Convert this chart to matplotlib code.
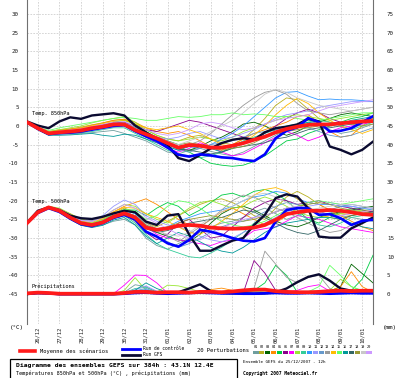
# -*- coding: utf-8 -*-
# GEFS ensemble diagram (T850, T500, precipitation) - 25/12/2007 12h run

import numpy as np
import matplotlib
matplotlib.use("Agg")
from matplotlib import pyplot as plt
from matplotlib.lines import Line2D
from matplotlib.patches import Rectangle

# Time axis (hours after 25/12/2007 12h)
hours = np.arange(0, 385, 12)
day_hours = np.arange(12, 384, 24)
day_labels = ["26/12", "27/12", "28/12", "29/12", "30/12", "31/12",
              "01/01", "02/01", "03/01", "04/01", "05/01", "06/01",
              "07/01", "08/01", "09/01", "10/01"]

# Offset of the precipitation curves on the left axis (0 mm -> -45)
precip_offset = -45

# Ensemble mean, control run and GFS run
t850_mean = [1.0, -0.6, -2.0, -1.7, -1.5, -1.2, -0.6, -0.2, 0.4, 0.4, -1.1, -2.2, -3.3,
             -4.6, -5.8, -5.1, -5.3, -5.8, -5.8, -5.3, -4.6, -3.7, -2.9, -1.7, -0.8,
             -0.2, 0.3, 0.4, 0.4, 0.7, 1.0, 1.2, 1.3]
t850_ctrl = [1.0, -0.8, -2.2, -1.9, -1.8, -1.5, -1.0, -0.5, 0.0, 0.2, -1.4, -2.8, -4.0,
             -5.8, -7.7, -8.2, -7.6, -7.9, -8.4, -8.6, -9.1, -9.4, -7.6, -3.3, -1.3,
             -0.4, 2.1, 1.0, -1.5, -1.3, -0.6, 1.0, 2.6]
t850_gfs = [1.2, 0.1, -0.6, 1.2, 2.3, 1.9, 2.8, 3.1, 3.4, 2.8, 0.1, -1.7, -3.5,
            -5.1, -8.6, -9.4, -7.8, -6.0, -4.6, -3.7, -3.3, -3.7, -1.7, -0.6, -0.2,
            0.4, 1.9, 1.2, -5.5, -6.4, -7.6, -6.4, -4.2]

t500_mean = [-26.0, -23.1, -21.8, -22.7, -24.5, -26.0, -26.5, -25.8, -24.3, -23.4, -24.5,
             -27.2, -27.8, -27.4, -26.7, -26.5, -26.7, -27.2, -27.4, -27.5, -27.4, -27.2,
             -26.5, -25.1, -23.6, -23.1, -22.7, -22.7, -22.5, -22.7, -23.1, -23.6, -23.8]
t500_ctrl = [-26.0, -23.3, -22.0, -23.0, -24.8, -26.3, -26.8, -26.0, -24.6, -23.8, -25.0,
             -28.3, -29.6, -31.4, -32.3, -30.5, -27.8, -28.3, -29.1, -30.0, -30.7, -30.9,
             -30.0, -25.6, -22.5, -22.0, -22.0, -23.8, -23.6, -24.7, -26.5, -25.4, -25.1]
t500_gfs = [-26.0, -22.7, -21.8, -22.5, -24.0, -24.7, -24.9, -24.3, -23.4, -22.7, -23.1,
            -25.6, -26.5, -24.0, -23.6, -29.1, -33.4, -33.4, -32.0, -30.7, -30.0, -26.5,
            -23.8, -19.3, -18.3, -18.9, -22.0, -29.6, -29.9, -29.9, -27.4, -26.0, -24.5]

rr_mean = [0.2, 0.4, 0.3, 0.1, 0.1, 0.1, 0.1, 0.1, 0.1, 0.3, 0.6, 0.6, 0.4, 0.5, 0.5,
           0.4, 0.6, 0.6, 0.5, 0.7, 1.0, 1.2, 1.2, 0.8, 0.6, 0.5, 0.5, 0.6, 0.8, 0.9,
           0.8, 0.9, 0.9]
rr_ctrl = [0.1, 0.3, 0.2, 0.0, 0.0, 0.0, 0.0, 0.0, 0.0, 0.1, 0.3, 0.4, 0.2, 0.1, 0.2,
           0.3, 0.4, 0.3, 0.2, 0.2, 0.1, 0.1, 0.2, 0.3, 0.2, 0.2, 0.3, 0.2, 0.1, 0.2,
           0.3, 0.2, 0.2]
rr_gfs = [0.0, 0.3, 0.2, 0.0, 0.0, 0.0, 0.0, 0.0, 0.0, 0.2, 0.5, 0.6, 0.3, 0.3, 0.5,
          1.5, 2.6, 0.8, 0.3, 0.2, 0.2, 0.1, 0.2, 0.5, 1.5, 3.2, 4.6, 5.3, 3.6, 1.5,
          0.9, 0.6, 0.5]

# 20 perturbations
pert_colors = ["#6f9e9e", "#b8b020", "#006400", "#ff8c00", "#00cc44", "#8b008b",
               "#ff00ff", "#99e633", "#33cc99", "#3399ff", "#9999ff", "#6699cc",
               "#999999", "#ffbb00", "#66ff66", "#009999", "#336666", "#999933",
               "#c8c8c8", "#cc99ff"]

t850_pert = [
    [1.0, -0.8, -2.3, -2.0, -2.2, -2.0, -1.8, -1.5, -1.2, -2.0, -3.0, -4.0, -5.5, -7.0, -7.5, -6.5, -6.0, -6.8, -7.5, -8.0, -7.0, -5.5, -4.0, -2.5, -1.0, 0.5, 1.5, 0.5, -1.0, -2.0, -1.5, -0.5, 0.5],
    [1.0, -0.5, -1.8, -1.2, -0.8, -0.3, 0.3, 0.8, 1.5, 1.8, 0.5, -1.0, -2.5, -3.5, -4.0, -3.0, -2.5, -3.5, -4.5, -5.0, -3.5, -1.0, 2.0, 5.5, 7.5, 7.0, 4.5, 2.0, 1.0, 0.5, 1.0, 1.5, 2.0],
    [1.0, -0.7, -2.0, -1.8, -1.5, -1.0, -0.5, 0.0, 0.6, 0.8, -0.5, -2.0, -3.5, -5.0, -6.0, -6.5, -5.5, -4.0, -3.0, -1.5, 0.5, 1.0, 0.0, -1.5, -2.5, -1.5, 0.0, 1.0, 2.0, 3.0, 3.5, 3.0, 2.5],
    [1.0, -0.4, -1.5, -1.0, -0.8, -0.5, 0.2, 0.8, 1.5, 1.8, 1.0, -0.5, -1.5, -2.0, -1.5, -2.5, -4.0, -5.5, -6.5, -5.0, -3.5, -2.0, -1.0, 0.0, 1.0, 2.5, 3.0, 1.0, -1.5, -3.0, -2.5, 0.0, 2.0],
    [1.0, -0.6, -2.2, -2.0, -1.6, -1.2, -0.5, 0.2, 1.0, 1.5, 0.5, -1.5, -3.0, -4.5, -6.0, -7.0, -8.5, -10.0, -10.5, -10.8, -10.5, -9.5, -8.0, -6.0, -4.0, -3.5, -2.0, -1.0, 0.0, 1.0, 2.0, 2.5, 3.5],
    [1.0, -0.5, -1.9, -1.5, -1.0, -0.8, -0.2, 0.3, 0.8, 1.0, 0.0, -1.0, -1.5, -0.5, 0.5, 1.5, 1.0, 0.0, -1.0, -2.0, -3.0, -3.5, -2.0, 0.0, 2.0, 3.5, 4.5, 3.5, 2.0, 1.0, 0.5, 1.0, 1.5],
    [1.0, -0.8, -2.2, -2.0, -1.8, -1.5, -1.0, -0.5, 0.2, 0.5, -1.5, -3.0, -4.5, -6.0, -7.0, -6.0, -4.5, -5.5, -7.0, -8.0, -7.5, -6.0, -4.5, -3.0, -1.5, -2.5, -4.0, -3.0, -1.5, -0.5, 0.0, 0.5, 1.0],
    [1.0, -0.5, -1.5, -1.0, -0.5, 0.0, 0.8, 1.5, 2.0, 2.5, 1.0, -1.0, -2.5, -3.5, -4.0, -3.5, -3.0, -3.5, -4.0, -3.0, -1.5, -0.5, 0.5, 1.5, 2.5, 3.0, 2.5, 2.0, 1.5, 2.0, 2.5, 3.0, 3.5],
    [1.0, -0.9, -2.4, -2.2, -2.0, -1.8, -1.5, -1.0, -0.5, -0.5, -2.0, -3.5, -5.0, -6.5, -7.5, -8.0, -8.5, -8.0, -7.0, -5.5, -4.0, -3.0, -2.0, -1.0, 0.0, 0.5, 1.0, 1.5, 1.0, 0.0, -1.0, 0.0, 1.0],
    [1.0, -0.6, -2.0, -1.6, -1.2, -1.0, -0.5, 0.0, 0.5, 0.8, -0.5, -2.0, -3.0, -4.0, -5.0, -5.5, -6.0, -5.0, -3.5, -2.0, 0.0, 2.5, 5.0, 7.5, 9.0, 9.2, 8.0, 7.0, 7.2, 7.0, 7.0, 6.8, 6.5],
    [1.0, -0.7, -2.1, -1.8, -1.5, -1.2, -0.8, -0.3, 0.2, 0.5, -0.8, -2.0, -3.0, -3.5, -3.0, -2.0, -1.5, -2.5, -3.5, -3.0, -2.0, -1.0, 0.5, 2.0, 3.0, 3.5, 4.0, 5.0, 5.5, 6.0, 6.5, 6.5, 6.5],
    [1.0, -0.8, -2.3, -2.2, -2.0, -1.5, -1.0, -0.6, -0.2, 0.0, -1.5, -2.5, -4.0, -5.5, -6.5, -7.0, -6.0, -5.0, -4.5, -4.0, -3.0, -2.0, -1.5, -1.0, -0.5, 0.0, -0.5, -1.5, -2.5, -3.0, -2.5, -1.5, -0.5],
    [1.0, -0.6, -1.9, -1.6, -1.3, -1.0, -0.5, 0.0, 0.5, 0.5, -1.0, -2.5, -3.5, -4.5, -5.5, -5.0, -4.0, -2.0, 0.5, 3.0, 5.5, 7.5, 9.0, 9.6, 8.5, 6.0, 4.0, 3.5, 3.0, 3.5, 4.0, 4.5, 5.0],
    [1.0, -0.5, -1.7, -1.3, -1.0, -0.6, 0.0, 0.6, 1.2, 1.5, 0.5, -0.5, -1.0, -0.5, 0.0, -1.0, -2.0, -3.5, -5.0, -5.5, -4.5, -2.5, 0.0, 3.0, 5.5, 7.4, 6.0, 3.5, 1.5, 0.0, -1.0, -2.0, -1.0],
    [1.0, -0.4, -1.2, -0.5, 0.0, 0.5, 1.0, 1.5, 2.0, 2.3, 2.0, 1.5, 1.5, 2.0, 2.5, 2.3, 2.5, 3.0, 3.0, 3.5, 3.0, 3.2, 3.0, 2.5, 2.5, 2.0, 1.5, 1.5, 2.0, 2.5, 3.0, 3.5, 3.5],
    [1.0, -1.0, -2.5, -2.5, -2.4, -2.2, -2.0, -2.5, -2.8, -2.2, -2.5, -3.5, -4.5, -5.5, -6.5, -5.5, -5.0, -6.0, -7.0, -6.0, -4.5, -3.5, -2.5, -2.0, -1.0, 0.0, 1.0, 0.5, 0.0, 0.5, 1.5, 2.0, 2.5],
    [1.0, -0.7, -2.1, -1.9, -1.7, -1.4, -0.9, -0.4, 0.1, 0.3, -1.2, -2.5, -3.8, -5.0, -6.2, -6.5, -7.0, -7.5, -7.0, -6.0, -5.5, -5.0, -4.5, -3.5, -3.0, -2.0, -1.0, -0.5, -0.5, 0.0, 0.5, 1.0, 1.5],
    [1.0, -0.6, -2.0, -1.7, -1.4, -1.1, -0.6, -0.1, 0.4, 0.6, -0.8, -2.0, -3.0, -4.0, -5.0, -4.5, -5.0, -6.0, -6.5, -6.0, -5.5, -4.5, -3.0, -2.0, -1.5, -1.0, -0.5, 0.0, 0.5, 1.0, 0.5, 0.0, 0.5],
    [1.0, -0.7, -2.0, -1.6, -1.3, -1.0, -0.4, 0.1, 0.6, 0.8, -0.6, -1.8, -3.0, -4.2, -5.0, -4.0, -3.0, -1.5, 0.0, 1.5, 3.5, 6.0, 8.5, 9.8, 9.0, 7.5, 6.5, 5.5, 5.0, 4.5, 4.0, 4.5, 5.0],
    [1.0, -0.5, -1.8, -1.4, -1.1, -0.8, -0.2, 0.4, 1.0, 1.2, 0.0, -1.0, -2.0, -2.5, -2.0, -1.0, 0.5, 1.0, 0.5, -0.5, -1.0, -0.5, 0.5, 1.5, 2.0, 2.5, 3.0, 4.0, 5.0, 5.5, 6.0, 6.5, 7.0],
]

t500_pert = [
    [-26.0, -23.3, -22.0, -23.0, -25.0, -26.5, -27.0, -26.5, -25.5, -25.0, -26.5, -30.0, -32.0, -33.0, -31.5, -30.0, -28.5, -27.0, -26.0, -25.5, -24.5, -23.0, -22.0, -23.5, -25.0, -24.0, -23.0, -22.5, -23.0, -24.0, -24.5, -25.0, -25.5],
    [-26.0, -23.0, -21.7, -22.5, -24.0, -25.5, -26.0, -25.0, -23.5, -22.0, -23.0, -26.0, -27.0, -25.5, -24.0, -22.5, -21.0, -20.0, -19.5, -20.5, -22.0, -24.0, -25.0, -22.0, -19.0, -17.5, -19.0, -21.0, -22.5, -23.5, -24.0, -23.5, -23.0],
    [-26.0, -23.2, -22.0, -22.8, -24.5, -26.0, -26.8, -26.0, -24.5, -23.0, -24.5, -27.0, -28.5, -29.5, -30.5, -31.0, -29.0, -26.0, -23.5, -22.0, -21.5, -22.5, -24.0, -25.5, -26.5, -27.0, -26.0, -24.5, -23.5, -23.0, -22.5, -22.0, -21.5],
    [-26.0, -23.0, -21.5, -22.2, -23.5, -25.0, -25.5, -24.5, -23.0, -21.5, -20.5, -19.5, -21.0, -23.0, -25.0, -26.5, -27.0, -25.0, -23.0, -22.0, -23.5, -25.0, -26.5, -26.0, -24.0, -22.0, -20.5, -21.0, -22.5, -24.0, -25.5, -27.0, -28.0],
    [-26.0, -23.1, -21.8, -22.6, -24.2, -25.8, -26.3, -25.5, -23.8, -22.5, -22.5, -24.0, -22.0, -20.5, -21.5, -24.0, -22.5, -20.5, -18.5, -18.0, -19.0, -17.5, -17.0, -18.0, -20.0, -22.5, -25.0, -26.0, -24.5, -23.0, -22.0, -22.5, -23.0],
    [-26.0, -23.2, -21.9, -22.8, -24.6, -26.1, -26.6, -25.9, -24.4, -23.5, -25.5, -28.5, -30.5, -29.0, -26.0, -25.0, -27.5, -30.0, -29.5, -27.0, -24.5, -22.0, -20.5, -19.5, -20.0, -21.0, -20.5, -20.0, -21.0, -21.5, -22.0, -22.5, -23.0],
    [-26.0, -23.1, -21.9, -22.7, -24.4, -26.0, -26.4, -25.6, -24.0, -23.0, -24.0, -27.0, -29.0, -30.0, -30.5, -31.0, -31.5, -32.0, -31.0, -30.5, -30.0, -28.0, -27.5, -27.0, -25.5, -24.0, -24.5, -25.0, -26.0, -27.0, -27.5, -28.0, -28.5],
    [-26.0, -22.8, -21.5, -22.0, -23.5, -25.0, -25.5, -24.5, -22.5, -21.0, -21.5, -23.5, -25.0, -26.0, -24.0, -22.0, -20.5, -20.0, -21.0, -22.0, -21.5, -20.0, -19.0, -20.0, -21.5, -23.0, -24.0, -24.5, -24.0, -23.5, -23.0, -22.5, -22.5],
    [-26.0, -23.3, -22.1, -23.0, -24.8, -26.3, -26.8, -26.2, -24.8, -24.0, -26.0, -29.0, -31.5, -33.0, -34.0, -35.0, -35.3, -34.0, -32.5, -30.5, -28.5, -26.0, -24.0, -23.0, -22.0, -23.5, -25.0, -26.5, -27.0, -26.0, -24.5, -24.0, -24.0],
    [-26.0, -23.0, -21.7, -22.5, -24.3, -25.8, -26.2, -25.3, -23.6, -22.5, -23.5, -26.5, -28.0, -27.0, -25.5, -24.5, -23.5, -23.0, -22.5, -21.5, -20.0, -19.0, -18.5, -17.5, -18.0, -19.5, -20.5, -21.0, -21.0, -21.5, -21.5, -22.0, -22.5],
    [-26.0, -22.9, -21.6, -22.3, -23.8, -25.2, -25.4, -24.0, -21.5, -19.8, -21.0, -24.0, -25.5, -26.5, -27.0, -28.0, -29.5, -30.5, -31.0, -30.0, -28.5, -27.5, -26.0, -24.5, -23.0, -22.0, -21.5, -21.0, -20.5, -21.0, -21.5, -22.0, -22.0],
    [-26.0, -23.2, -22.0, -22.9, -24.7, -26.2, -26.7, -26.0, -24.6, -23.8, -25.5, -28.0, -29.5, -31.0, -32.5, -31.5, -30.0, -28.5, -27.0, -26.0, -25.5, -24.5, -23.0, -21.5, -20.5, -21.0, -22.5, -23.5, -22.5, -21.5, -21.0, -21.5, -22.0],
    [-26.0, -23.1, -21.8, -22.7, -24.5, -26.0, -26.5, -25.8, -24.3, -23.2, -24.0, -26.0, -27.5, -29.5, -31.0, -29.0, -27.0, -25.0, -22.5, -20.0, -18.5, -19.0, -20.5, -22.0, -23.0, -24.5, -26.0, -27.5, -28.5, -28.0, -26.5, -25.5, -24.5],
    [-26.0, -23.0, -21.6, -22.4, -24.0, -25.5, -25.8, -24.8, -23.0, -21.8, -22.0, -23.5, -24.5, -25.5, -27.0, -28.5, -29.0, -27.5, -25.5, -23.5, -21.0, -18.5, -17.0, -16.5, -17.5, -19.5, -21.5, -23.5, -24.5, -25.0, -24.0, -23.0, -22.5],
    [-26.0, -23.0, -21.7, -22.5, -24.2, -25.6, -26.0, -25.2, -23.5, -22.3, -22.8, -25.0, -24.0, -21.5, -20.0, -20.5, -22.0, -24.0, -25.5, -26.5, -27.0, -26.5, -25.5, -24.0, -22.5, -21.5, -20.5, -20.0, -20.5, -21.0, -20.5, -20.0, -19.5],
    [-26.0, -23.3, -22.1, -23.1, -25.0, -26.6, -27.2, -26.6, -25.2, -24.5, -26.5, -29.5, -31.5, -30.0, -28.5, -29.5, -31.0, -32.5, -33.5, -34.0, -32.5, -30.5, -28.5, -27.0, -26.0, -25.5, -25.0, -24.5, -24.5, -25.0, -26.0, -27.0, -27.5],
    [-26.0, -23.2, -21.9, -22.8, -24.6, -26.1, -26.6, -25.9, -24.5, -23.6, -25.0, -27.5, -28.5, -28.0, -27.0, -26.0, -25.5, -25.0, -24.5, -23.5, -22.5, -23.0, -24.5, -26.0, -27.5, -28.5, -29.0, -28.0, -26.5, -25.0, -24.0, -23.5, -23.0],
    [-26.0, -23.1, -21.8, -22.6, -24.3, -25.9, -26.4, -25.6, -24.0, -23.0, -24.0, -26.5, -27.5, -27.0, -26.0, -25.0, -24.5, -24.0, -24.5, -25.0, -25.5, -25.0, -24.0, -23.0, -22.0, -21.5, -21.0, -20.5, -21.0, -22.0, -22.5, -23.0, -23.5],
    [-26.0, -23.1, -21.9, -22.7, -24.5, -26.0, -26.5, -25.8, -24.2, -23.2, -24.2, -26.8, -28.0, -29.0, -29.5, -28.5, -26.5, -24.5, -23.0, -21.5, -20.0, -18.5, -18.0, -19.0, -20.5, -22.0, -22.5, -22.0, -21.5, -21.0, -21.0, -21.5, -22.0],
    [-26.0, -23.0, -21.6, -22.3, -23.8, -25.3, -25.6, -24.5, -22.5, -21.0, -22.0, -24.5, -26.0, -27.5, -29.0, -30.0, -30.5, -29.0, -27.5, -26.0, -25.0, -24.5, -24.0, -23.0, -22.0, -21.5, -22.0, -23.0, -24.0, -24.0, -23.5, -23.0, -22.5],
]

rr_pert = [
    [0.2, 0.4, 0.3, 0.0, 0.0, 0.0, 0.0, 0.0, 0.1, 0.5, 2.5, 2.0, 0.5, 0.3, 0.2, 0.2, 0.4, 0.3, 0.2, 0.3, 0.5, 0.4, 0.3, 0.2, 0.3, 0.5, 0.4, 0.3, 0.2, 0.3, 0.4, 0.3, 0.2],
    [0.2, 0.5, 0.3, 0.0, 0.0, 0.0, 0.0, 0.0, 0.0, 0.3, 0.8, 0.6, 0.3, 0.2, 0.3, 0.4, 0.5, 0.4, 0.3, 0.5, 0.8, 0.6, 0.4, 0.3, 0.2, 0.3, 0.5, 0.4, 0.3, 0.2, 0.3, 0.4, 0.3],
    [0.1, 0.3, 0.2, 0.0, 0.0, 0.0, 0.0, 0.0, 0.0, 0.2, 0.4, 0.5, 0.3, 0.2, 0.2, 0.3, 0.3, 0.2, 0.2, 0.3, 0.4, 0.3, 0.2, 0.3, 0.2, 0.2, 0.3, 0.4, 0.8, 2.0, 8.0, 5.5, 3.0],
    [0.2, 0.4, 0.3, 0.0, 0.0, 0.0, 0.0, 0.0, 0.0, 0.2, 0.5, 0.4, 0.2, 0.3, 0.4, 0.5, 0.8, 1.2, 1.6, 1.0, 0.6, 0.4, 0.3, 0.3, 0.4, 0.3, 0.5, 0.6, 0.8, 2.0, 6.0, 2.0, 0.5],
    [0.2, 0.5, 0.3, 0.0, 0.0, 0.0, 0.0, 0.0, 0.0, 0.4, 1.0, 0.8, 0.4, 0.3, 0.3, 0.4, 0.3, 0.2, 0.3, 0.5, 0.6, 1.0, 3.0, 7.7, 5.0, 0.5, 0.3, 0.4, 0.5, 0.6, 1.0, 4.0, 10.4],
    [0.1, 0.3, 0.2, 0.0, 0.0, 0.0, 0.0, 0.0, 0.0, 0.2, 0.6, 0.5, 0.3, 0.2, 0.2, 0.3, 0.4, 0.3, 0.2, 0.2, 0.3, 9.0, 5.6, 1.0, 0.4, 0.3, 0.2, 0.3, 0.4, 0.3, 0.2, 0.3, 0.4],
    [0.2, 0.4, 0.3, 0.0, 0.0, 0.0, 0.0, 0.0, 0.1, 2.4, 5.1, 5.0, 3.0, 0.3, 0.2, 0.3, 0.4, 0.3, 0.2, 0.3, 0.4, 0.3, 0.2, 0.3, 0.5, 1.0, 2.0, 2.5, 0.8, 0.3, 0.2, 0.3, 0.4],
    [0.2, 0.4, 0.3, 0.0, 0.0, 0.0, 0.0, 0.0, 0.0, 1.0, 4.4, 1.0, 0.5, 2.4, 2.2, 1.5, 0.6, 0.4, 0.3, 0.4, 0.5, 0.4, 0.3, 0.4, 0.5, 0.6, 0.5, 0.6, 1.0, 4.0, 2.0, 0.8, 0.5],
    [0.1, 0.3, 0.2, 0.0, 0.0, 0.0, 0.0, 0.0, 0.0, 0.3, 1.5, 1.8, 0.6, 0.3, 0.2, 0.3, 0.2, 0.2, 0.3, 0.3, 0.4, 0.3, 0.2, 0.2, 0.3, 0.4, 0.3, 0.2, 0.3, 0.4, 0.3, 0.2, 0.3],
    [0.2, 0.4, 0.3, 0.0, 0.0, 0.0, 0.0, 0.0, 0.0, 0.2, 0.8, 1.2, 0.5, 0.2, 0.3, 0.4, 0.5, 0.4, 0.3, 0.2, 0.3, 0.4, 0.5, 0.6, 0.5, 0.4, 0.3, 0.2, 0.3, 0.4, 0.5, 0.4, 0.3],
    [0.1, 0.3, 0.2, 0.0, 0.0, 0.0, 0.0, 0.0, 0.0, 0.4, 1.2, 2.2, 0.8, 0.3, 0.2, 0.2, 0.3, 0.2, 0.2, 0.3, 0.3, 0.4, 0.3, 0.2, 0.2, 0.3, 0.4, 0.3, 0.2, 0.2, 0.3, 0.4, 0.5],
    [0.2, 0.4, 0.3, 0.0, 0.0, 0.0, 0.0, 0.0, 0.0, 0.3, 0.9, 1.5, 0.4, 0.2, 0.2, 0.3, 0.3, 0.2, 0.3, 0.4, 0.6, 0.5, 0.4, 0.3, 0.4, 0.5, 0.4, 0.3, 0.4, 0.3, 0.2, 0.3, 0.4],
    [0.2, 0.4, 0.3, 0.0, 0.0, 0.0, 0.0, 0.0, 0.0, 0.2, 0.6, 0.8, 0.4, 0.3, 0.2, 0.3, 0.4, 0.3, 0.2, 0.3, 0.5, 1.5, 11.5, 8.0, 4.5, 3.0, 4.5, 5.0, 1.5, 0.5, 0.4, 0.3, 0.4],
    [0.1, 0.3, 0.2, 0.0, 0.0, 0.0, 0.0, 0.0, 0.0, 0.2, 0.5, 0.6, 0.3, 0.2, 0.3, 0.4, 0.6, 0.5, 0.4, 0.3, 0.4, 0.3, 0.5, 0.8, 0.6, 0.4, 0.3, 0.4, 0.5, 0.6, 0.8, 0.6, 0.4],
    [0.2, 0.4, 0.3, 0.0, 0.0, 0.0, 0.0, 0.0, 0.0, 0.3, 0.8, 0.7, 0.4, 0.3, 0.3, 0.4, 0.3, 0.3, 0.4, 0.5, 0.6, 0.5, 0.8, 1.0, 0.6, 0.5, 0.6, 2.0, 7.7, 5.0, 2.0, 1.0, 0.6],
    [0.2, 0.4, 0.3, 0.0, 0.0, 0.0, 0.0, 0.0, 0.0, 0.3, 1.0, 3.0, 1.5, 0.4, 0.2, 0.3, 0.4, 0.3, 0.2, 0.3, 0.4, 0.3, 0.2, 0.3, 0.4, 0.3, 0.4, 0.5, 0.4, 0.3, 0.4, 0.5, 0.4],
    [0.1, 0.3, 0.2, 0.0, 0.0, 0.0, 0.0, 0.0, 0.0, 0.2, 0.7, 1.0, 0.4, 0.2, 0.2, 0.3, 0.2, 0.2, 0.2, 0.3, 0.4, 0.3, 0.3, 0.2, 0.3, 0.4, 0.3, 0.3, 0.4, 0.5, 0.4, 0.3, 0.3],
    [0.2, 0.4, 0.3, 0.0, 0.0, 0.0, 0.0, 0.0, 0.0, 0.3, 0.6, 0.5, 0.3, 0.3, 0.4, 0.5, 0.4, 0.3, 0.3, 0.4, 0.5, 0.6, 0.4, 0.3, 0.3, 0.4, 0.5, 0.4, 0.5, 0.6, 0.5, 0.4, 0.3],
    [0.2, 0.3, 0.2, 0.0, 0.0, 0.0, 0.0, 0.0, 0.0, 0.2, 0.5, 0.6, 0.3, 0.2, 0.2, 0.3, 0.3, 0.2, 0.3, 0.4, 0.3, 0.4, 0.6, 0.5, 0.4, 0.3, 0.4, 0.3, 0.2, 0.3, 0.4, 0.3, 0.3],
    [0.1, 0.4, 0.3, 0.0, 0.0, 0.0, 0.0, 0.0, 0.0, 0.3, 0.7, 0.6, 0.4, 0.3, 0.3, 0.3, 0.4, 0.3, 0.4, 0.3, 0.4, 0.5, 0.4, 0.3, 0.4, 0.5, 0.6, 0.5, 0.4, 0.5, 0.6, 0.5, 0.4],
]

mono = "DejaVu Sans Mono"
plt.rcParams["font.family"] = mono

fig = plt.figure(figsize=(4.0, 3.78), dpi=100)
fig.patch.set_facecolor("white")
ax = fig.add_axes([27 / 400, 54 / 378, 346 / 400, 324 / 378])

# Perturbations
for j in range(20):
    c = pert_colors[j]
    ax.plot(hours, t850_pert[j], color=c, lw=0.6, zorder=2)
    ax.plot(hours, t500_pert[j], color=c, lw=0.6, zorder=2)
    ax.plot(hours, np.array(rr_pert[j]) + precip_offset, color=c, lw=0.6, zorder=2)

# GFS, control and mean
for t850, t500, rr, c, lw, z in [
        (t850_gfs, t500_gfs, rr_gfs, "#0a0a30", 1.7, 3),
        (t850_ctrl, t500_ctrl, rr_ctrl, "#0000ff", 1.9, 4),
        (t850_mean, t500_mean, rr_mean, "#ff1a1a", 2.7, 5)]:
    ax.plot(hours, t850, color=c, lw=lw, zorder=z)
    ax.plot(hours, t500, color=c, lw=lw, zorder=z)
    ax.plot(hours, np.array(rr) + precip_offset, color=c, lw=lw, zorder=z)

ax.set_xlim(0, 384)
ax.set_ylim(-53, 33.7)
ax.set_yticks(np.arange(-45, 31, 5))
ax.set_yticklabels([str(v) for v in range(-45, 31, 5)], fontsize=4.2)
ax.set_xticks(day_hours)
ax.set_xticklabels(day_labels, rotation=90, fontsize=4.0)
ax.tick_params(length=0, pad=6, colors="#202020")
ax.tick_params(axis="x", pad=2)
ax.grid(True, color="#cfcfcf", lw=0.6, ls=(0, (2, 1.5)), zorder=0)
for side in ["top", "bottom"]:
    ax.spines[side].set_visible(False)
for side in ["left", "right"]:
    ax.spines[side].set_color("#707070")
    ax.spines[side].set_linewidth(0.8)

ax2 = ax.twinx()
ax2.set_ylim(-53 - precip_offset, 33.7 - precip_offset)
ax2.set_yticks(np.arange(0, 76, 5))
ax2.set_yticklabels([str(v) for v in range(0, 76, 5)], fontsize=4.2)
ax2.tick_params(length=0, pad=10, colors="#202020")
for side in ["top", "bottom", "left", "right"]:
    ax2.spines[side].set_visible(False)

ax.text(5.5, 3.2, "Temp. 850hPa", fontsize=3.8, va="center", zorder=6)
ax.text(5.5, -20.3, "Temp. 500hPa", fontsize=3.8, va="center", zorder=6)
ax.text(5.5, -42.8, "Précipitations", fontsize=3.8, va="center", zorder=6)


# Figure-level annotations (pixel coordinates from the top-left corner)
def fx(x):
    return x / 400


def fy(y):
    return 1 - y / 378


fig.text(fx(10), fy(327), "(°C)", fontsize=4.2, va="center")
fig.text(fx(383), fy(327), "(mm)", fontsize=4.2, va="center")

fig.add_artist(Line2D([fx(20), fx(35)], [fy(351), fy(351)], color="#ff1a1a", lw=2.6))
fig.text(fx(40), fy(351), "Moyenne des scénarios", fontsize=3.9, va="center")
fig.add_artist(Line2D([fx(122), fx(140)], [fy(349), fy(349)], color="#0000ff", lw=2.0))
fig.add_artist(Line2D([fx(122), fx(140)], [fy(354.5), fy(354.5)], color="#0a0a30", lw=2.0))
fig.text(fx(143), fy(349), "Run de contrôle", fontsize=3.3, va="center")
fig.text(fx(143), fy(355), "Run GFS", fontsize=3.3, va="center")
fig.text(fx(197), fy(350.5), "20 Perturbations", fontsize=4.0, va="center")
for j in range(20):
    x0 = 253 + j * 5.95
    fig.text(fx(x0 + 2.8), fy(347), "%02d" % (j + 1), fontsize=2.6, ha="center", va="center")
    fig.add_artist(Rectangle((fx(x0 + 0.4), fy(354)), 5.1 / 400, 3.5 / 378,
                             facecolor=pert_colors[j], edgecolor="none"))

fig.add_artist(Rectangle((fx(10), fy(379)), 227 / 400, 19.5 / 378,
                         facecolor="none", edgecolor="black", lw=0.9))
fig.text(fx(16), fy(365), "Diagramme des ensembles GEFS sur 384h : 43.1N 12.4E",
         fontsize=4.6, fontweight="bold", va="center")
fig.text(fx(16), fy(373), "Températures 850hPa et 500hPa (°C) , précipitations (mm)",
         fontsize=3.7, va="center")
fig.text(fx(243), fy(362), "Ensemble GEFS du 25/12/2007 - 12h", fontsize=3.1, va="center")
fig.text(fx(243), fy(373), "Copyright 2007 Meteociel.fr", fontsize=3.3,
         fontweight="bold", va="center")

fig.savefig("out.png", dpi=100)
